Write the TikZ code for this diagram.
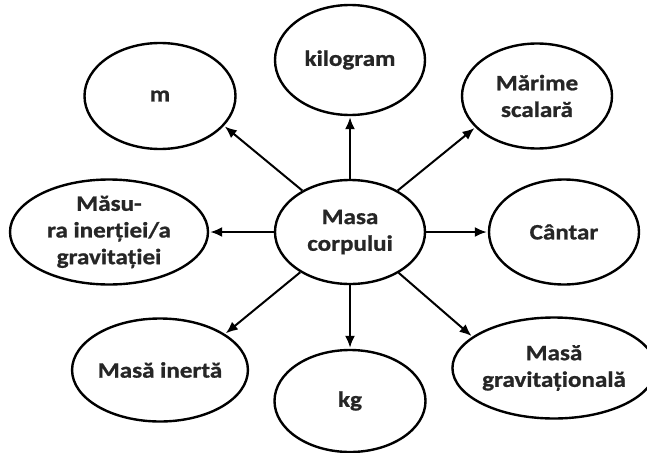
\documentclass[tikz,border=0pt]{standalone}
\usepackage{fontspec}
\setmainfont{Carlito}[BoldFont={Carlito Bold},FakeStretch=1.14,BoldFeatures={FakeBold=1}]
\usetikzlibrary{shapes.geometric,arrows.meta}
\begin{document}
\begin{tikzpicture}[x=1pt,y=-1pt,
  bub/.style={ellipse,draw,line width=2.4pt,inner sep=0pt,align=center,
    font=\bfseries\fontsize{22}{26.7}\selectfont,text=black!85},
  arr/.style={line width=2pt,-{Latex[length=12pt,width=10pt]},shorten >=1pt}]
\useasboundingbox (0,0) rectangle (647,452);
\node[bub,minimum width=150pt,minimum height=104pt] (c) at (350,232) {Masa\\corpului};
\node[bub,minimum width=150pt,minimum height=110pt] (kilo) at (350,60) {kilogram};
\node[bub,minimum width=151pt,minimum height=106pt] (m) at (160,96) {m};
\node[bub,minimum width=150pt,minimum height=105pt] (mar) at (537,96) {Mărime\\scalară};
\node[bub,minimum width=198pt,minimum height=105pt] (masura) at (109,232) {Măsu-\\ra inerției/a\\gravitației};
\node[bub,minimum width=150pt,minimum height=105pt] (cantar) at (564,232) {Cântar};
\node[bub,minimum width=151pt,minimum height=103pt] (inerta) at (160,370) {Masă inertă};
\node[bub,minimum width=151pt,minimum height=102pt] (kg) at (350,401) {kg};
\node[bub,minimum width=182pt,minimum height=101pt] (grav) at (554,368) {Masă\\gravitațională};
\draw[arr] (c.139) -- (m.-25);
\draw[arr] (c.north) -- (kilo.south);
\draw[arr] (c.41) -- (mar.-153);
\draw[arr] (c.west) -- (masura.east);
\draw[arr] (c.east) -- (cantar.west);
\draw[arr] (c.219) -- (inerta.29);
\draw[arr] (c.south) -- (kg.north);
\draw[arr] (c.-40) -- (grav.159);
\end{tikzpicture}
\end{document}
